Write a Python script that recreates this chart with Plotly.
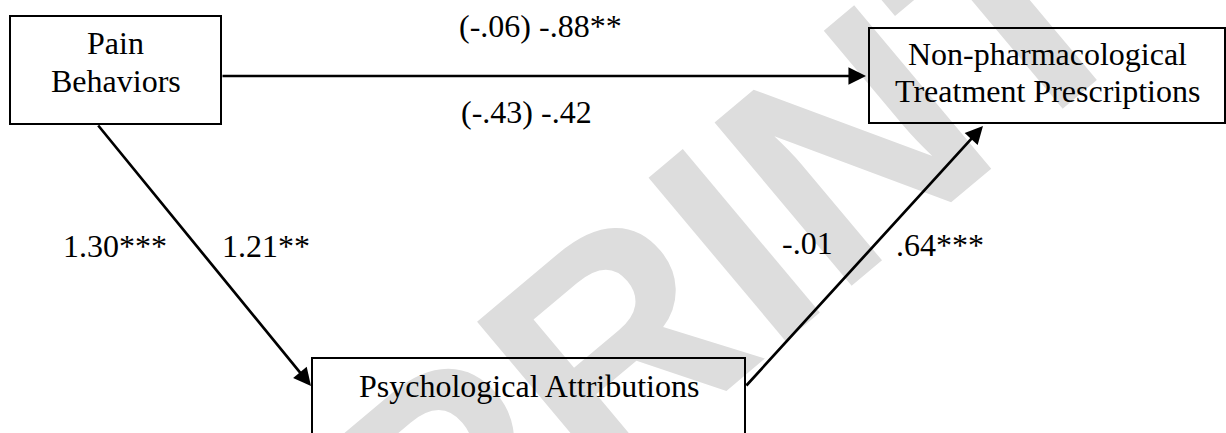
import plotly.graph_objects as go

# ---- data ----
node_names = ["Pain<br>Behaviors", "Non-pharmacological<br>Treatment Prescriptions", "Psychological Attributions"]
path_c_labels = ["(-.06) -.88**", "(-.43) -.42"]
path_a_labels = ["1.30***", "1.21**"]
path_b_labels = ["-.01", ".64***"]
watermark = "PREPRINT"

# ---- layout geometry (pixels, y downward) ----
W, H = 1226, 433
F = 32
SERIF = "Liberation Serif, Times New Roman, serif"

boxes = {  # x0, y0, x1, y1
    "pain": (10, 16, 221, 124),
    "ntp": (869, 28, 1225, 123),
    "pa": (312, 358, 745, 460),
}

fig = go.Figure()
fig.update_xaxes(range=[0, W], visible=False, fixedrange=True)
fig.update_yaxes(range=[H, 0], visible=False, fixedrange=True)

ann = []
# watermark first (drawn underneath)
wx, wy = 482, 455
ann.append(dict(x=wx / W, y=1 - wy / H, xref="paper", yref="paper", text=watermark, showarrow=False,
                textangle=-40, font=dict(family="Liberation Sans, Arial, sans-serif", size=310,
                                         color="#dddddd", weight="bold"),
                xanchor="center", yanchor="middle"))

# boxes as bordered annotations
for key, (x0, y0, x1, y1) in boxes.items():
    ann.append(dict(x=(x0 + x1) / 2, y=(y0 + y1) / 2, xref="x", yref="y", text=" ",
                    showarrow=False, width=x1 - x0 - 2, height=y1 - y0 - 2,
                    bordercolor="black", borderwidth=2, borderpad=0,
                    xanchor="center", yanchor="middle"))

def label(txt, x, baseline):
    ann.append(dict(x=x, y=baseline - 0.34 * F, xref="x", yref="y", text=txt, showarrow=False,
                    font=dict(family=SERIF, size=F, color="black"),
                    xanchor="center", yanchor="middle"))

pain_lines = node_names[0].split("<br>")
ntp_lines = node_names[1].split("<br>")
label(pain_lines[0], 115.5, 54)
label(pain_lines[1], 115.5, 92)
label(ntp_lines[0], 1047, 65)
label(ntp_lines[1], 1047, 102)
label(node_names[2], 528.5, 397)

label(path_c_labels[0], 540, 37)
label(path_c_labels[1], 526, 123)
label(path_a_labels[0], 115, 257)
label(path_a_labels[1], 266, 257)
label(path_b_labels[0], 807, 254)
label(path_b_labels[1], 940, 256)

def arrow(x0, y0, x1, y1):
    ann.append(dict(x=x1, y=y1, ax=x0, ay=y0, xref="x", yref="y", axref="x", ayref="y",
                    text="", showarrow=True, arrowhead=2, arrowwidth=2.7, arrowsize=1.3,
                    arrowcolor="black", standoff=0, startstandoff=0))

arrow(221, 76, 866, 76)      # c path
arrow(97, 124, 311, 386)     # a path
arrow(745, 387, 983, 126)    # b path

fig.update_layout(width=W, height=H, margin=dict(l=0, r=0, t=0, b=0),
                  paper_bgcolor="white", plot_bgcolor="white",
                  annotations=ann, showlegend=False)

fig.write_html("out.html", config={"displayModeBar": False},
               post_script="document.body.style.margin='0';document.body.style.overflow='hidden';")
